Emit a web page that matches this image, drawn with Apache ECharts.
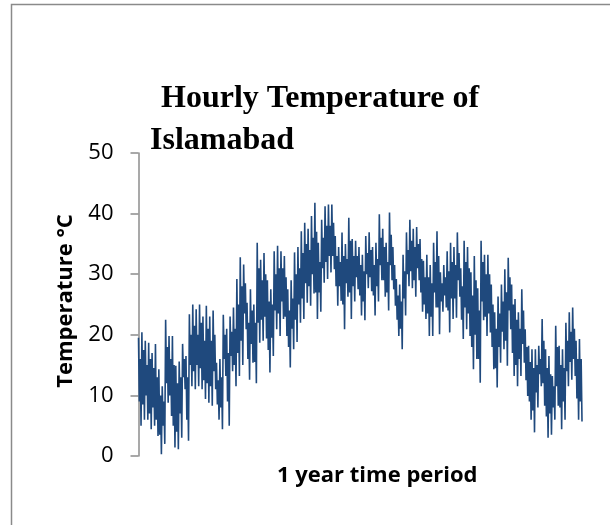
<!DOCTYPE html>
<html>
<head>
<meta charset="utf-8">
<title>Hourly Temperature of Islamabad</title>
<script src="https://cdn.jsdelivr.net/npm/echarts@6/dist/echarts.min.js"></script>
<style>
  html, body { margin: 0; padding: 0; background: #ffffff; }
  #chart { width: 610px; height: 525px; }
</style>
</head>
<body>
<div id="chart"></div>
<script>
// Hourly temperature over one year (°C). Each stretch of hours is described by
// its highest peak, an inner dip, an inner rise and its lowest trough.
const peakTemps = [
  19.5, 20.4, 19, 18.7, 17, 18.5, 14.3, 11.5, 22.5, 19.8,
  19.8, 14.9, 15.6, 18.5, 16.5, 23.4, 25, 24.2, 25, 23,
  24.8, 23, 24, 15.4, 16, 23.3, 21, 23, 24.5, 29.2,
  32.8, 31.6, 25.3, 27.5, 25, 35.2, 32.4, 33.5, 29, 27.5,
  33.8, 34.7, 33.8, 33, 27.5, 29, 33.6, 34.5, 37.1, 38.5,
  37.5, 39.6, 41.8, 35.2, 39, 41.2, 41.5, 41.5, 36.3, 34.5,
  36.9, 35, 39.3, 35.8, 35.5, 34.5, 33.2, 36.3, 36.9, 34.5,
  35.2, 39.9, 37.5, 35.2, 40.2, 34.5, 29.2, 28.3, 33.2, 36.9,
  39, 37.5, 37.8, 35.8, 32.2, 33.2, 31.5, 35.2, 37.1, 30.3,
  31.5, 33.8, 35.2, 34.5, 36.9, 31, 35.5, 34.5, 30.3, 33,
  27.7, 35.5, 33.2, 33.2, 28.3, 23.7, 26.3, 28.3, 30.8, 32.7,
  28.3, 25.9, 23.7, 27.5, 20.9, 18.2, 17.6, 17.6, 18.2, 22.6,
  17.6, 16.5, 13.2, 21.5, 18.2, 17.6, 22, 23.7, 24.5, 19, 19.3
];
const innerLowTemps = [
  9, 8.5, 10, 7, 8, 6, 3.5, 5, 12, 10,
  5, 4, 7, 13, 6, 15, 14, 15, 14.5, 12.5,
  12, 11.5, 14, 8.5, 8, 16, 9, 16.5, 15, 17,
  19, 23.5, 16, 18.5, 15.5, 22, 22.5, 23, 17.5, 19.5,
  24, 23.5, 25.5, 23, 18, 21, 22.5, 25, 26, 28.5,
  28, 30, 27, 27, 31, 32, 33, 33, 28, 28,
  25, 28.5, 27, 28, 29.5, 26.5, 25.5, 30, 29.5, 26.5,
  28, 31.5, 29, 27, 31.5, 27.5, 22.5, 21, 26, 30,
  30.5, 29, 31, 27, 25, 23.5, 23, 27, 24.5, 25.5,
  26.5, 24, 26, 26, 29, 22.5, 24.5, 23.5, 18, 20,
  16, 25.5, 23, 23.5, 18, 14.5, 18, 20.5, 19, 24,
  17, 15, 16, 18.5, 12.5, 9, 7.5, 10.5, 13.5, 12,
  6.5, 7, 8, 11.5, 8, 9, 14, 15.5, 16, 9.5, 9
];
const innerHighTemps = [
  16, 17.5, 15, 16, 14.5, 13, 10, 9, 18, 16,
  15, 12, 13, 16, 13, 20, 21.5, 20, 22, 19,
  21, 19, 20, 12.5, 13, 20, 17, 20.5, 21, 25,
  28, 28.5, 22, 24, 22, 31, 29, 30, 25.5, 25,
  30, 31, 31, 29.5, 24, 26, 30, 31, 33.5, 35,
  34, 36, 37, 32, 36, 38, 38, 38.5, 33, 32,
  33, 32.5, 35.5, 33, 33, 31.5, 30.5, 33.5, 34, 31.5,
  32.5, 36, 34.5, 32, 36.5, 31.5, 26.5, 25.5, 30.5, 34,
  35.5, 34.5, 35, 32.5, 29.5, 29.5, 28.5, 32, 33, 28.5,
  29.5, 30.5, 32, 31.5, 33.5, 28, 32, 31, 26.5, 29,
  24, 32, 30, 30, 25, 21, 23.5, 25.5, 27, 29.5,
  25, 22.5, 21, 24, 18, 15.5, 14.5, 15, 16, 19,
  14.5, 13.5, 11.5, 18, 15, 14.5, 19, 20.5, 21, 16, 16
];
const troughTemps = [
  5, 6, 6, 4.4, 5, 3.3, 0.3, 2, 8.8, 6.6,
  1.4, 1.1, 3, 11, 2.5, 11.5, 11, 11.5, 11, 9.4,
  8.8, 8.3, 11, 6, 4.4, 13.2, 5, 14, 11.5, 13.2,
  15, 20.9, 12.6, 15.4, 12, 18.7, 19, 19.4, 13.8, 16.5,
  20.9, 19.8, 22.6, 19.8, 14.6, 17.6, 18.8, 22, 22.6, 25.3,
  24.8, 26.8, 22.6, 23.8, 28.6, 29.2, 30.3, 30.8, 24.8, 25.6,
  20.9, 26.3, 22.6, 25.5, 27.5, 23.2, 22.4, 27.7, 27.2, 23.2,
  25.5, 29, 26.3, 24, 29, 24.8, 19.8, 17.6, 23.2, 28,
  27.7, 26.3, 29, 23.8, 22.6, 19.8, 19.8, 24.5, 20.1, 23.8,
  24.5, 20.4, 22.6, 22.8, 26.3, 19.3, 20.9, 19.8, 14.3, 16,
  12.1, 22.4, 19.8, 20.4, 14.3, 11.3, 15.4, 17.6, 14.9, 20.9,
  13.2, 11.5, 13.2, 15.4, 9.9, 6, 3.9, 8, 11.5, 8.3,
  3, 3.5, 6, 8.3, 4.4, 6, 11.5, 12.6, 13.2, 6, 5.7
];
const yTicks = [0, 10, 20, 30, 40, 50];

// Put the readings back in time order: peak, dip, rise, trough for each stretch
const hourlyTemps = [];
peakTemps.forEach((p, i) => {
  hourlyTemps.push(p, innerLowTemps[i], innerHighTemps[i], troughTemps[i]);
});
const sampleIndex = hourlyTemps.map((_, i) => i);

const chart = echarts.init(document.getElementById('chart'), null, { renderer: 'canvas' });

const labelFont = '"Open Sans", "Liberation Sans", sans-serif';
const titleFont = '"Liberation Serif", "Times New Roman", serif';

chart.setOption({
  animation: false,
  backgroundColor: '#ffffff',
  grid: { left: 138.5, right: 28, top: 153, bottom: 69, containLabel: false },
  xAxis: {
    type: 'category',
    data: sampleIndex,
    boundaryGap: false,
    axisLine: { show: false },
    axisTick: { show: false },
    axisLabel: { show: false },
    splitLine: { show: false }
  },
  yAxis: {
    type: 'value',
    min: yTicks[0],
    max: yTicks[yTicks.length - 1],
    interval: yTicks[1] - yTicks[0],
    axisLine: { show: true, lineStyle: { color: '#8c8c8c', width: 1.5 } },
    axisTick: { show: true, inside: false, length: 8, lineStyle: { color: '#8c8c8c', width: 1.5 } },
    axisLabel: { color: '#000000', fontSize: 22, fontFamily: labelFont, margin: 25 },
    splitLine: { show: false }
  },
  series: [{
    type: 'line',
    data: hourlyTemps,
    showSymbol: false,
    symbol: 'none',
    sampling: null,
    lineStyle: { color: '#1F497D', width: 1.6 },
    itemStyle: { color: '#1F497D' }
  }],
  graphic: [
    {
      type: 'rect',
      silent: true,
      shape: { x: 11.5, y: 4.5, width: 640, height: 560 },
      style: { fill: 'none', stroke: '#8a8a8a', lineWidth: 1.5 }
    },
    {
      type: 'text',
      left: 161, top: 83,
      style: { text: 'Hourly Temperature of', font: 'bold 32px ' + titleFont, fill: '#000000' }
    },
    {
      type: 'text',
      left: 150, top: 125,
      style: { text: 'Islamabad', font: 'bold 32px ' + titleFont, fill: '#000000' }
    },
    {
      type: 'text',
      left: 277, top: 465,
      style: { text: '1 year time period', font: 'bold 22px ' + labelFont, fill: '#000000' }
    },
    {
      type: 'text',
      x: 66, y: 301,
      rotation: Math.PI / 2,
      style: {
        text: 'Temperature °C', font: 'bold 22px ' + labelFont, fill: '#000000',
        align: 'center', verticalAlign: 'middle'
      }
    }
  ]
});
</script>
</body>
</html>
